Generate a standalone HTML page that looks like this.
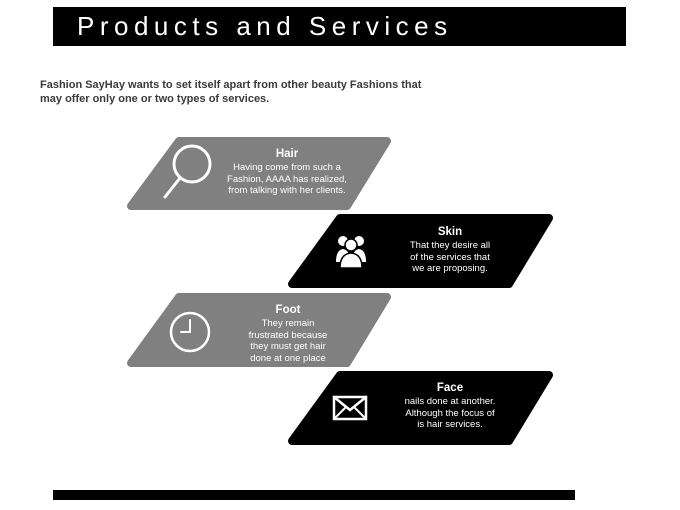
<!DOCTYPE html>
<html><head><meta charset="utf-8"><style>
html,body{margin:0;padding:0;background:#fff;}
body{width:680px;height:510px;position:relative;overflow:hidden;font-family:"Liberation Sans","DejaVu Sans",sans-serif;}
.title{position:absolute;left:53px;top:7px;width:573px;height:39px;background:#000;color:#fff;font-size:26px;letter-spacing:5.5px;line-height:39px;box-sizing:border-box;padding-left:24px;}
.intro{position:absolute;left:40px;top:78px;font-size:11px;font-weight:bold;color:#3a3a3a;line-height:14px;}
.bottom{position:absolute;left:53px;top:490px;width:522px;height:10px;background:#000;}
.t{position:absolute;color:#fff;text-align:center;font-size:9.5px;line-height:11.5px;}
.t b{display:block;font-size:11.5px;line-height:15px;}
</style></head><body>
<div class="title">Products and Services</div>
<div class="intro">Fashion SayHay wants to set itself apart from other beauty Fashions that<br>may offer only one or two types of services.</div>
<svg width="680" height="510" style="position:absolute;left:0;top:0">
<g stroke-linejoin="round" stroke-width="8">
<polygon points="179,141 387,141 347,206 131,206" fill="#808080" stroke="#808080"/>
<polygon points="340,218 549,218 509,284 292,284" fill="#000" stroke="#000"/>
<polygon points="179,297 387,297 347,363 131,363" fill="#808080" stroke="#808080"/>
<polygon points="340,375 549,375 509,441 292,441" fill="#000" stroke="#000"/>
</g>
<g fill="none" stroke="#fff" stroke-width="3" stroke-linecap="round">
<circle cx="192" cy="164" r="18"/>
<line x1="180" y1="178" x2="165" y2="197"/>
<circle cx="190" cy="332" r="19" stroke-width="2.5"/>
<polyline points="190,320 190,332 181,332" stroke-width="2"/>
<rect x="334" y="397" width="32" height="22" stroke-width="2.5"/>
<polyline points="334,397 350,410 366,397" stroke-width="2.5"/>
<line x1="334" y1="419" x2="346" y2="407" stroke-width="2"/>
<line x1="366" y1="419" x2="354" y2="407" stroke-width="2"/>
</g>
<g fill="#fff">
<circle cx="343" cy="241" r="5"/><circle cx="359" cy="241" r="5"/>
<path d="M336,262 q0,-12 7,-13 q7,1 7,13z"/><path d="M352,262 q0,-12 7,-13 q7,1 7,13z"/>
<circle cx="351" cy="245" r="6" stroke="#000" stroke-width="1.5"/>
<path d="M340,268 q0,-14 11,-15 q11,1 11,15z" stroke="#000" stroke-width="1.5"/>
</g>
</svg>
<div class="t" style="left:212px;top:147px;width:150px;"><b>Hair</b>Having come from such a<br>Fashion, AAAA has realized,<br>from talking with her clients.</div>
<div class="t" style="left:375px;top:225px;width:150px;"><b>Skin</b>That they desire all<br>of the services that<br>we are proposing.</div>
<div class="t" style="left:213px;top:303px;width:150px;"><b>Foot</b>They remain<br>frustrated because<br>they must get hair<br>done at one place</div>
<div class="t" style="left:375px;top:381px;width:150px;"><b>Face</b>nails done at another.<br>Although the focus of<br>is hair services.</div>
<div class="bottom"></div>
</body></html>
